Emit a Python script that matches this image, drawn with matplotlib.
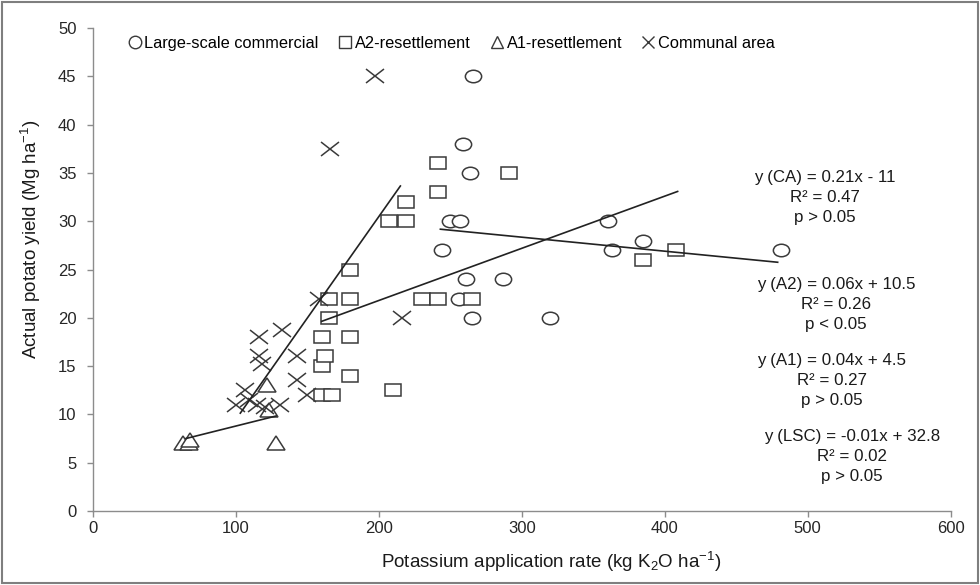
import matplotlib
matplotlib.use("Agg")
import matplotlib.pyplot as plt
from matplotlib.markers import MarkerStyle
from matplotlib.transforms import Affine2D
from matplotlib.patches import Rectangle
import numpy as np

plt.rcParams['font.family'] = ['Liberation Sans', 'DejaVu Sans']
plt.rcParams['mathtext.fontset'] = 'custom'
plt.rcParams['mathtext.rm'] = 'Liberation Sans'
plt.rcParams['mathtext.it'] = 'Liberation Sans:italic'

# Large-scale commercial (LSC)
lsc_x = [266, 259, 264, 250, 257, 244, 261, 287, 256, 265, 320, 360, 363, 385, 481]
lsc_y = [45, 38, 35, 30, 30, 27, 24, 24, 22, 20, 20, 30, 27, 28, 27]

# A2-resettlement
a2_x = [160, 167, 160, 162, 160, 165, 165, 180, 180, 180, 180, 210, 207, 219,
        219, 230, 241, 241, 241, 265, 291, 385, 408]
a2_y = [12, 12, 15, 16, 18, 20, 22, 14, 18, 22, 25, 12.5, 30, 30,
        32, 22, 22, 33, 36, 22, 35, 26, 27]

# A1-resettlement
a1_x = [63, 67, 68, 122, 123, 128]
a1_y = [7, 7, 7.3, 13, 10.5, 7]

# Communal area (CA)
ca_x = [100, 106, 109, 115, 120, 131, 116, 132, 116, 118, 143, 143, 150, 158, 166, 197, 216]
ca_y = [11, 12.5, 11.5, 11, 10.8, 11, 18, 18.7, 16, 15.2, 16, 13.6, 12, 22, 37.5, 45, 20]

# trend lines: CA, A2, A1, LSC
fit_slope = [0.21, 0.054, 0.037, -0.0145]
fit_icpt = [-11.5, 11.0, 5.1, 32.7]
fit_xmin = [103, 160, 65, 243]
fit_xmax = [215, 409, 128, 479]

ann_lines = [
    ["y (CA) = 0.21x - 11", "R² = 0.47", "p > 0.05"],
    ["y (A2) = 0.06x + 10.5", "R² = 0.26", "p < 0.05"],
    ["y (A1) = 0.04x + 4.5", "R² = 0.27", "p > 0.05"],
    ["y (LSC) = -0.01x + 32.8", "R² = 0.02", "p > 0.05"],
]
ann_x = [512, 520, 517, 531]
ann_y = [34.5, 23.4, 15.6, 7.7]

dark = '#3a3a3a'
axis_gray = '#8c8c8c'

fig = plt.figure(figsize=(9.8, 5.85), dpi=100)
ax = fig.add_axes([0.095, 0.1265, 0.875, 0.8255])

stretch = Affine2D().scale(1.3, 1.0)
series = [
    (lsc_x, lsc_y, 'o', 'Large-scale commercial', 9),
    (a2_x, a2_y, 's', 'A2-resettlement', 9),
    (a1_x, a1_y, '^', 'A1-resettlement', 10),
    (ca_x, ca_y, 'x', 'Communal area', 10),
]
handles = []
for xs, ys, m, lab, ms in series:
    ax.plot(xs, ys, linestyle='none', marker=MarkerStyle(m, transform=stretch),
            markersize=ms, markerfacecolor='white', markeredgecolor=dark,
            markeredgewidth=1.1, zorder=3)
    h, = ax.plot([], [], linestyle='none', marker=m, markersize=9,
                 markerfacecolor='white', markeredgecolor=dark,
                 markeredgewidth=1.0, label=lab)
    handles.append(h)

for k in range(4):
    xx = np.array([fit_xmin[k], fit_xmax[k]])
    ax.plot(xx, fit_slope[k] * xx + fit_icpt[k], color='#222222', lw=1.2, zorder=4)

# equations
for lines, tx, ty in zip(ann_lines, ann_x, ann_y):
    for j, s in enumerate(lines):
        ax.text(tx, ty - j * 2.07, s, ha='center', va='center', fontsize=12.2,
                color='#1a1a1a')

ax.set_xlim(0, 600)
ax.set_ylim(0, 50)
ax.set_xticks(np.arange(0, 601, 100))
ax.set_yticks(np.arange(0, 51, 5))
for sp in ['top', 'right']:
    ax.spines[sp].set_visible(False)
for sp in ['left', 'bottom']:
    ax.spines[sp].set_color(axis_gray)
    ax.spines[sp].set_linewidth(1.0)
ax.tick_params(axis='both', direction='out', length=4, width=1.0,
               color=axis_gray, labelsize=12, labelcolor='#262626')
ax.tick_params(axis='y', pad=8)
ax.tick_params(axis='x', pad=3)

ax.set_xlabel('Potassium application rate (kg K$_2$O ha$^{-1}$)', fontsize=13.5,
              color='#1a1a1a')
ax.xaxis.set_label_coords(0.534, -0.08)
ax.set_ylabel('Actual potato yield (Mg ha$^{-1}$)', fontsize=13.5, color='#1a1a1a')
ax.yaxis.set_label_coords(-0.058, 0.563)

ax.legend(handles=handles, loc='center', bbox_to_anchor=(0.416, 0.969), ncol=4,
          frameon=False, fontsize=11.8, handletextpad=0.0, columnspacing=1.0,
          handlelength=1.2, borderpad=0)

fig.add_artist(Rectangle((0.002, 0.003), 0.996, 0.993, transform=fig.transFigure,
                         fill=False, edgecolor='#7f7f7f', lw=1.5))

fig.savefig('out.png', dpi=100)
